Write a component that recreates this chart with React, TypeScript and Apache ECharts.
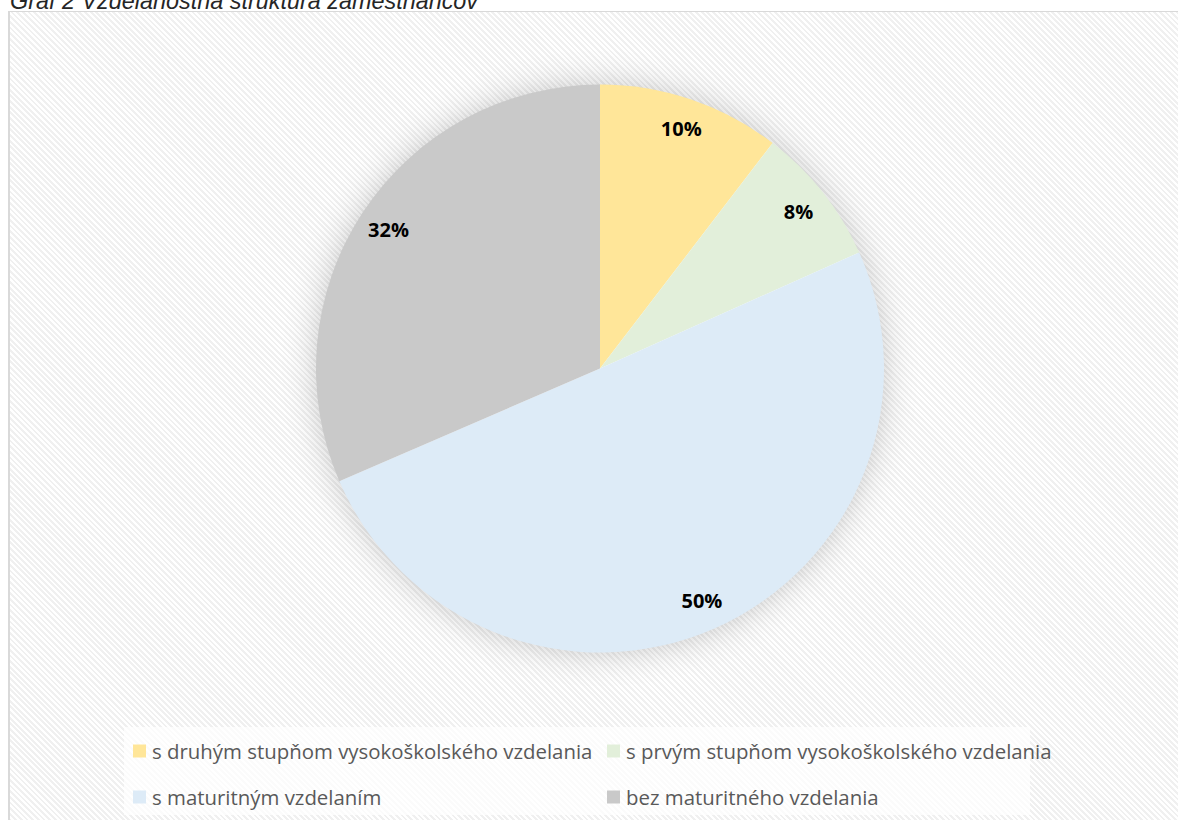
import React, { useEffect, useRef } from "react";
import * as echarts from "echarts";

const titleText = "Graf 2 Vzdelanostná štruktúra zamestnancov";
const categories = [
  "s druhým stupňom vysokoškolského vzdelania",
  "s prvým stupňom vysokoškolského vzdelania",
  "s maturitným vzdelaním",
  "bez maturitného vzdelania",
];
const values = [10.4, 7.9, 50.2, 31.5];
const colors = ["#FFE699", "#E2EFDA", "#DDEBF7", "#C9C9C9"];

export default function App() {
  const ref = useRef<HTMLDivElement>(null);
  useEffect(() => {
    if (!ref.current) return;
    const chart = echarts.init(ref.current, null, { renderer: "svg" });
    const data = categories.map((name, i) => ({
      name,
      value: values[i],
      itemStyle: { color: colors[i] },
    }));
    const legendData = (idx: number[]) =>
      idx.map((i) => ({ name: categories[i], itemStyle: { color: colors[i] } }));
    const legendCommon = {
      orient: "vertical" as const,
      icon: "rect",
      itemWidth: 13,
      itemHeight: 13,
      itemGap: 26,
      padding: 0,
      selectedMode: false,
      textStyle: {
        fontFamily: "'Open Sans', 'Noto Sans', sans-serif",
        fontSize: 20.4,
        color: "#595959",
        lineHeight: 20,
        padding: [0, 0, 0, 1],
      },
    };
    chart.setOption({
      animation: false,
      backgroundColor: "transparent",
      graphic: [
        {
          type: "text",
          x: 10,
          y: 12,
          style: {
            text: titleText,
            fontFamily: "'Liberation Sans', Arial, sans-serif",
            fontStyle: "italic",
            fontSize: 23.4,
            fill: "#262626",
            verticalAlign: "bottom",
          },
        },
        {
          type: "rect",
          shape: { x: 124, y: 727, width: 906, height: 88 },
          style: { fill: "rgba(255,255,255,0.7)" },
          z: -1,
        },
      ],
      legend: [
        { ...legendCommon, left: 133, top: 741, data: legendData([0, 2]) },
        { ...legendCommon, left: 607, top: 741, data: legendData([1, 3]) },
      ],
      series: [
        {
          type: "pie",
          center: [600, 368.5],
          radius: [0, 282],
          silent: true,
          label: { show: false },
          labelLine: { show: false },
          itemStyle: {
            color: "#ffffff",
            shadowBlur: 34,
            shadowColor: "rgba(0,0,0,0.22)",
          },
          data: [{ name: "shadow", value: 1 }],
          z: 1,
        },
        {
          type: "pie",
          center: [600, 368.5],
          radius: [0, 284],
          startAngle: 90,
          clockwise: true,
          label: { show: false },
          labelLine: { show: false },
          emphasis: { disabled: true },
          data,
          z: 2,
        },
        {
          type: "pie",
          center: [600, 368.5],
          radius: [216, 284],
          startAngle: 90,
          clockwise: true,
          silent: true,
          itemStyle: { color: "rgba(0,0,0,0)" },
          label: {
            show: true,
            position: "inside",
            formatter: (p: any) => `${Math.round(p.percent)}%`,
            fontFamily: "'Open Sans', 'Noto Sans', sans-serif",
            fontWeight: "bold",
            fontSize: 20,
            color: "#000000",
          },
          labelLine: { show: false },
          emphasis: { disabled: true },
          data: categories.map((name, i) => ({ name: name + " ", value: values[i] })),
          z: 3,
        },
      ],
    });
    return () => chart.dispose();
  }, []);
  return (
    <div
      style={{
        position: "fixed",
        left: 0,
        top: 0,
        width: 1178,
        height: 820,
        background: "#ffffff",
        overflow: "hidden",
      }}
    >
      <div
        style={{
          position: "absolute",
          left: 8,
          top: 11,
          width: 1200,
          height: 840,
          borderLeft: "2px solid #d9d9d9",
          borderTop: "1px solid #d9d9d9",
          background:
            "repeating-linear-gradient(45deg, #ffffff 0px, #ffffff 2px, #f0f0f0 2px, #f0f0f0 4px)",
        }}
      />
      <div
        ref={ref}
        style={{ position: "absolute", left: 0, top: 0, width: 1178, height: 820 }}
      />
    </div>
  );
}
